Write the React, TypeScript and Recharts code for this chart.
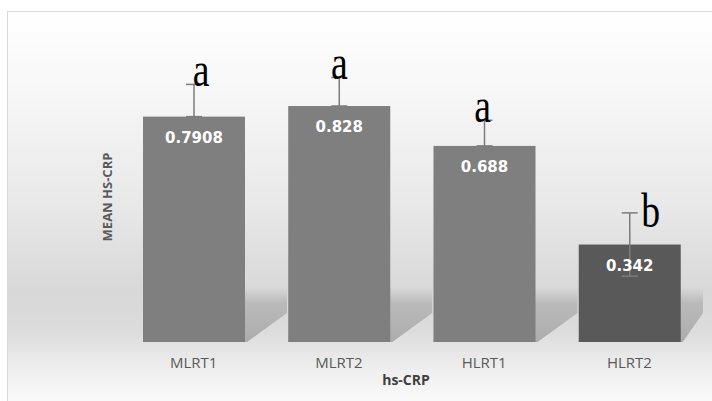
import React from "react"
import { BarChart, Bar, XAxis, YAxis, ErrorBar, LabelList } from "recharts"

const groups = ["MLRT1", "MLRT2", "HLRT1", "HLRT2"]
const means = [0.7908, 0.828, 0.688, 0.342]
const errLow = [0, 0, 0, 0.111]
const errHigh = [0.113, 0.1, 0.09, 0.111]
const sigLetters = ["a", "a", "a", "b"]

const data = groups.map((g, i) => ({
  group: g,
  mean: means[i],
  err: [errLow[i], errHigh[i]],
  sig: sigLetters[i],
}))

const barColors = ["#7f7f7f", "#7f7f7f", "#7f7f7f", "#595959"]
// small nudges for the significance letters (dx, dy)
const letterNudge = [
  [7, 2],
  [0, 1],
  [-2, 2],
  [21, 14],
]

const BarWithShadow = (props: any) => {
  const { x, y, width, height, index } = props
  const b = y + height
  const id = `shadow-${index}`
  const right = Math.min(x + width + 42, 703)
  const pts = [
    [x + 5, b - 55],
    [right, b - 55],
    [right, b - 29],
    [x + width + 2, b],
    [x, b],
  ]
    .map((p) => p.join(","))
    .join(" ")
  return (
    <g>
      <defs>
        <linearGradient id={id} x1="0" y1="0" x2="0" y2="1">
          <stop offset="0%" stopColor="#b8b8b8" stopOpacity={0} />
          <stop offset="30%" stopColor="#b6b6b6" stopOpacity={0.9} />
          <stop offset="100%" stopColor="#acacac" stopOpacity={1} />
        </linearGradient>
      </defs>
      <polygon points={pts} fill={`url(#${id})`} />
      <rect x={x} y={y} width={width} height={height} fill={barColors[index]} />
    </g>
  )
}

const renderValue = (props: any) => {
  const { x, y, width, value } = props
  return (
    <text
      x={x + width / 2}
      y={y + 26}
      textAnchor="middle"
      fill="#ffffff"
      fontFamily="DejaVu Sans"
      fontWeight="bold"
      fontSize={15}
    >
      {String(value)}
    </text>
  )
}

const renderSig = (props: any) => {
  const { x, y, width, height, value, index } = props
  const perUnit = height / means[index]
  const errTop = y - errHigh[index] * perUnit
  const [dx, dy] = letterNudge[index]
  const cx = x + width / 2 + dx
  const cy = errTop + dy
  return (
    <text
      x={0}
      y={0}
      transform={`translate(${cx} ${cy}) scale(0.82 1.05)`}
      textAnchor="middle"
      fill="#000000"
      fontFamily="Liberation Serif"
      fontSize={46}
    >
      {value}
    </text>
  )
}

const renderTick = (props: any) => {
  const { x, payload } = props
  return (
    <text
      x={x}
      y={368}
      textAnchor="middle"
      fill="#595959"
      fontFamily="Open Sans"
      fontSize={15}
    >
      {payload.value}
    </text>
  )
}

export default function App() {
  return (
    <div style={{ position: "absolute", left: 0, top: 0, width: 712, height: 401 }}>
      <div
        style={{
          position: "absolute",
          left: 7,
          top: 11,
          right: 0,
          bottom: 0,
          borderLeft: "1px solid #d9d9d9",
          borderTop: "1px solid #d9d9d9",
          background:
            "linear-gradient(to bottom, #ffffff 0%, #f7f7f7 20%, #e8e8e8 50%, #d8d8d8 72%, #dcdcdc 82%, #ebebeb 90%, #fafafa 100%)",
        }}
      />
      <div style={{ position: "absolute", left: 0, top: 0 }}>
        <BarChart
          width={712}
          height={401}
          data={data}
          margin={{ top: 57, right: 10, bottom: 0, left: 0 }}
        >
          <XAxis
            dataKey="group"
            height={59}
            axisLine={false}
            tickLine={false}
            tick={renderTick}
            label={{
              content: () => (
                <text
                  x={406}
                  y={385}
                  textAnchor="middle"
                  fill="#404040"
                  fontFamily="Open Sans"
                  fontWeight="bold"
                  fontSize={14}
                >
                  hs-CRP
                </text>
              ),
            }}
          />
          <YAxis
            width={121}
            domain={[0, 1]}
            axisLine={false}
            tickLine={false}
            tick={false}
            label={{
              content: () => (
                <text
                  x={112}
                  y={197}
                  transform="rotate(-90 112 197)"
                  textAnchor="middle"
                  fill="#595959"
                  fontFamily="Open Sans"
                  fontWeight="bold"
                  fontSize={13}
                >
                  MEAN HS-CRP
                </text>
              ),
            }}
          />
          <Bar dataKey="mean" barSize={102} shape={BarWithShadow} isAnimationActive={false}>
            <ErrorBar dataKey="err" width={8} stroke="#7c7c7c" strokeWidth={1.5} />
            <LabelList dataKey="mean" content={renderValue} />
            <LabelList dataKey="sig" content={renderSig} />
          </Bar>
        </BarChart>
      </div>
    </div>
  )
}
